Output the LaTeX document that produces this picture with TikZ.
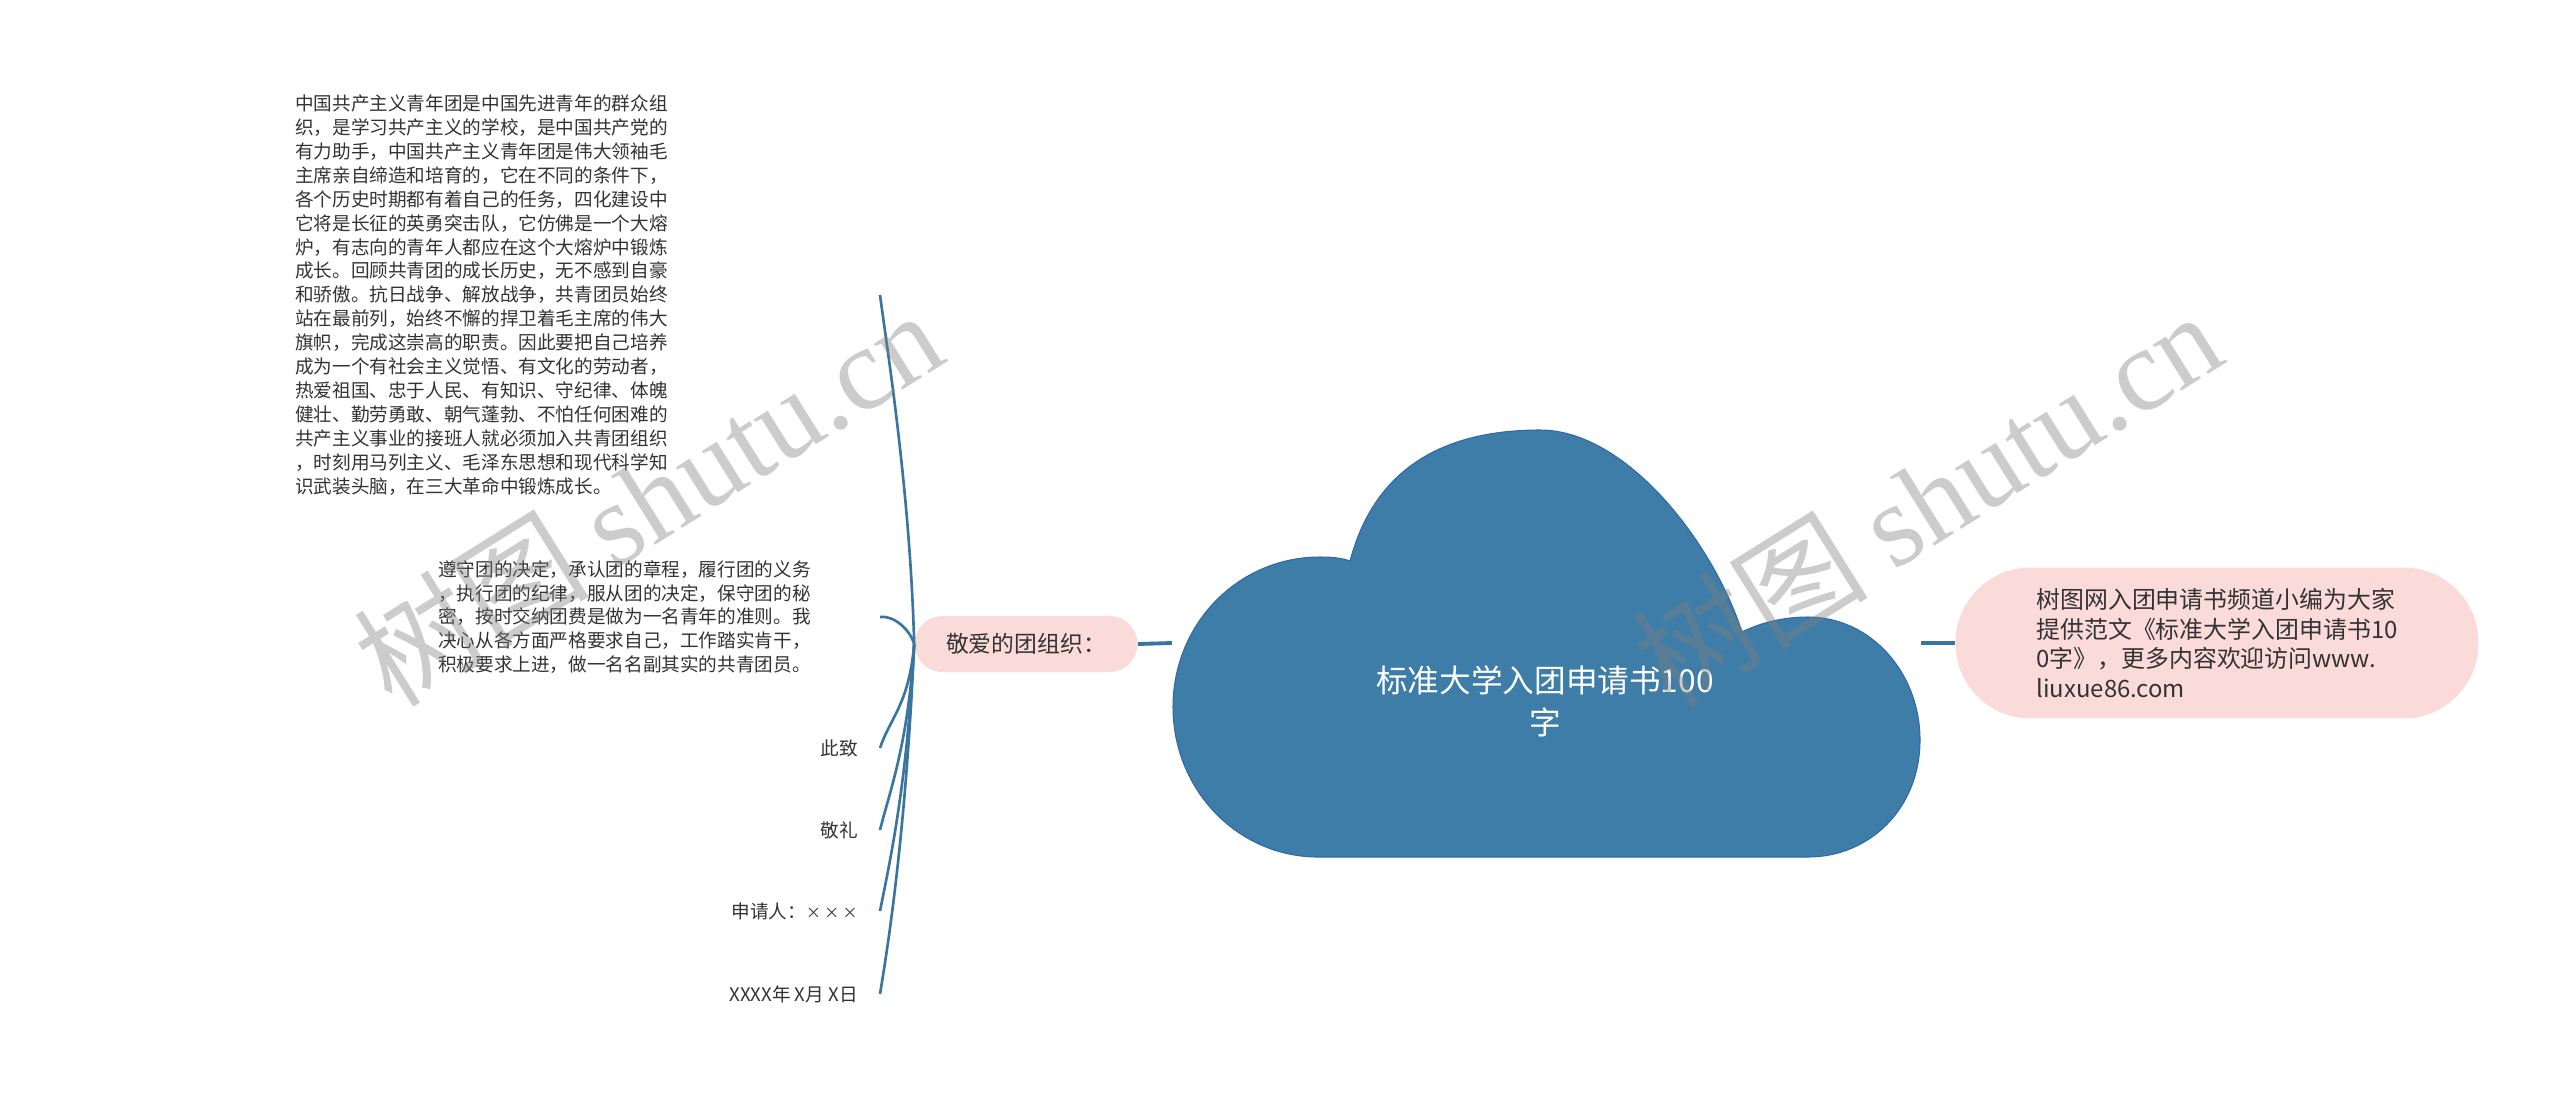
\documentclass[tikz,border=0pt]{standalone}
\usepackage{fontspec}
\setmainfont{Noto Sans CJK SC}
\newfontfamily\wmfont{Liberation Serif}
\usetikzlibrary{positioning}
\definecolor{cloudcolor}{RGB}{62,125,167}
\definecolor{cloudedge}{RGB}{48,104,170}
\definecolor{linecolor}{RGB}{58,117,160}
\definecolor{pinkcolor}{RGB}{250,219,218}
\definecolor{textcolor}{RGB}{51,51,51}

\begin{document}
\begin{tikzpicture}[x=0.02cm, y=-0.02cm,
    leaf/.style={text=textcolor, font=\fontsize{10.6pt}{13.6pt}\selectfont, anchor=east, align=left, inner ysep=0pt},
    bubble/.style={fill=pinkcolor, text=textcolor, inner sep=0pt},
    branch/.style={draw=linecolor, line width=1.5pt},
    link/.style={draw=linecolor, line width=2.2pt},
    watermark/.style={text=gray, opacity=0.4, rotate=32, font=\fontsize{67pt}{72pt}\selectfont}
]
\path[use as bounding box, fill=white] (0,0) rectangle (2560,1096);

% Root cloud
\fill[cloudcolor, draw=cloudedge, line width=0.6pt]
    (1318,857) .. controls (1238,857) and (1173,790) .. (1173,707)
    .. controls (1173,624) and (1238,557) .. (1320,557)
    .. controls (1332,557) and (1342,558) .. (1350,561)
    .. controls (1365,505) and (1405,430) .. (1540,430)
    .. controls (1625,430) and (1712,540) .. (1742,632)
    .. controls (1762,622) and (1785,617) .. (1808,617)
    .. controls (1870,617) and (1920,672) .. (1920,740)
    .. controls (1920,808) and (1870,857) .. (1808,857)
    -- cycle;
\node[text=white, align=center, font=\fontsize{18pt}{23.8pt}\selectfont] (title) at (1545,701) {标准大学入团申请书100\\字};
\coordinate (rootW) at (1172,643);
\coordinate (rootE) at (1921,643);

% First level
\node[bubble, minimum width=4.46cm, minimum height=1.12cm, rounded corners=0.56cm, font=\fontsize{13pt}{16pt}\selectfont] (greet) at (1026,644) {敬爱的团组织：};
\node[bubble, minimum width=10.46cm, minimum height=3.02cm, rounded corners=1.5cm, align=left, font=\fontsize{13.6pt}{16.8pt}\selectfont] (desc) at (2217,643) {树图网入团申请书频道小编为大家\\提供范文《标准大学入团申请书10\\0字》，更多内容欢迎访问www.\\liuxue86.com};

% Letter parts
\node[leaf, inner xsep=4.24cm] (history) at (880,295) {中国共产主义青年团是中国先进青年的群众组\\织，是学习共产主义的学校，是中国共产党的\\有力助手，中国共产主义青年团是伟大领袖毛\\主席亲自缔造和培育的，它在不同的条件下，\\各个历史时期都有着自己的任务，四化建设中\\它将是长征的英勇突击队，它仿佛是一个大熔\\炉，有志向的青年人都应在这个大熔炉中锻炼\\成长。回顾共青团的成长历史，无不感到自豪\\和骄傲。抗日战争、解放战争，共青团员始终\\站在最前列，始终不懈的捍卫着毛主席的伟大\\旗帜，完成这崇高的职责。因此要把自己培养\\成为一个有社会主义觉悟、有文化的劳动者，\\热爱祖国、忠于人民、有知识、守纪律、体魄\\健壮、勤劳勇敢、朝气蓬勃、不怕任何困难的\\共产主义事业的接班人就必须加入共青团组织\\，时刻用马列主义、毛泽东思想和现代科学知\\识武装头脑，在三大革命中锻炼成长。};
\node[leaf, inner xsep=1.38cm] (duty) at (880,617) {遵守团的决定，承认团的章程，履行团的义务\\，执行团的纪律，服从团的决定，保守团的秘\\密，按时交纳团费是做为一名青年的准则。我\\决心从各方面严格要求自己，工作踏实肯干，\\积极要求上进，做一名名副其实的共青团员。};
\node[leaf, inner xsep=0.44cm] (zhici) at (880,748) {此致};
\node[leaf, inner xsep=0.44cm] (jingli) at (880,830) {敬礼};
\node[leaf, inner xsep=0.44cm] (applicant) at (880,911) {申请人：{\fontsize{8.5pt}{13.6pt}\selectfont × × ×}};
\node[leaf, inner xsep=0.44cm] (date) at (880,994) {XXXX年 X月 X日};

% Connectors
\draw[link] (rootW) -- (greet.east);
\draw[link] (rootE) -- (desc.west);
\draw[branch] (greet.west) .. controls +(-4,-150) and +(8,60) .. (history.east);
\draw[branch] (greet.west) .. controls +(-4,-14) and +(14,-2) .. (duty.east);
\draw[branch] (greet.west) .. controls +(-5,60) and +(10,-30) .. (zhici.east);
\draw[branch] (greet.west) .. controls +(-6,100) and +(10,-40) .. (jingli.east);
\draw[branch] (greet.west) .. controls +(-7,140) and +(10,-50) .. (applicant.east);
\draw[branch] (greet.west) .. controls +(-8,180) and +(10,-60) .. (date.east);

% Watermarks
\node[watermark] (wm1) at (648,497) {树图 {\wmfont shutu.cn}};
\node[watermark] (wm2) at (1927,498) {树图 {\wmfont shutu.cn}};

\end{tikzpicture}
\end{document}
